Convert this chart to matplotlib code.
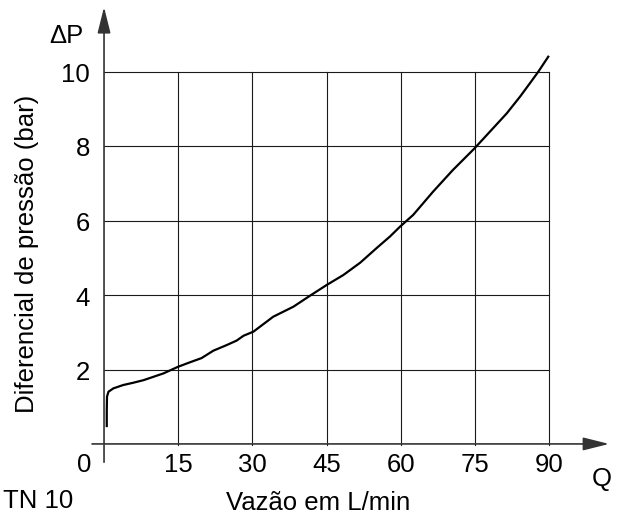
import matplotlib
matplotlib.use("Agg")
import matplotlib.pyplot as plt

plt.rcParams['font.family'] = ['Liberation Sans', 'DejaVu Sans']

# ---- data ----
flow_q = [0.55, 0.55, 0.6, 0.9, 1.9, 3.9, 5.9, 8.0, 10.0, 12.0, 15.0, 17.4, 19.7,
          22.1, 24.8, 26.8, 28.2, 30.2, 34.2, 38.3, 41.6, 45.0, 48.4, 51.8, 55.1,
          57.8, 59.8, 62.5, 66.5, 70.5, 74.8, 78.0, 81.4, 84.1, 86.1, 87.8, 89.8]
delta_p = [0.50, 0.90, 1.29, 1.42, 1.51, 1.60, 1.66, 1.73, 1.82, 1.91, 2.09, 2.21,
           2.32, 2.52, 2.67, 2.79, 2.92, 3.03, 3.43, 3.70, 3.99, 4.28, 4.55, 4.88,
           5.27, 5.58, 5.84, 6.16, 6.78, 7.36, 7.93, 8.39, 8.88, 9.33, 9.69, 10.0, 10.40]
x_ticks = [15, 30, 45, 60, 75, 90]
y_ticks = [2, 4, 6, 8, 10]
x_labels = ['15', '30', '45', '60', '75', '90']
y_labels = ['2', '4', '6', '8', '10']

FS = 18.5
fig = plt.figure(figsize=(6.19, 5.15), dpi=100)
ax = fig.add_axes([0, 0, 1, 1])
ax.set_xlim(-21.03, 104.1)
ax.set_ylim(-1.885, 11.92)
ax.axis('off')

# grid
for xv in x_ticks:
    ax.plot([xv, xv], [0, max(y_ticks)], color='#1a1a1a', lw=0.8, zorder=1)
for yv in y_ticks:
    ax.plot([0, max(x_ticks)], [yv, yv], color='#1a1a1a', lw=0.8, zorder=1)

# axes with arrows
arrow = dict(arrowstyle='-|>,head_length=1.6,head_width=0.4', mutation_scale=10,
             lw=1.2, color='#333333', shrinkA=0, shrinkB=0)
ax.annotate('', xy=(0, 11.73), xytext=(0, -0.47), arrowprops=arrow, zorder=2)
ax.annotate('', xy=(102.1, 0.02), xytext=(-2.43, 0.02), arrowprops=arrow, zorder=2)

# curve
ax.plot(flow_q, delta_p, color='black', lw=1.6, zorder=3)

# tick labels
ax.text(-4.04, -0.73, '0', fontsize=FS, ha='center', va='baseline')
for xv, lab in zip(x_ticks, x_labels):
    ax.text(xv, -0.73, lab, fontsize=FS, ha='center', va='baseline')
for yv, lab in zip(y_ticks, y_labels):
    ax.text(-2.83, yv - 0.27, lab, fontsize=FS, ha='right', va='baseline')

ax.text(-7.7, 10.77, 'ΔP', fontsize=FS, ha='center', va='baseline')
ax.text(100.67, -1.10, 'Q', fontsize=FS, ha='center', va='baseline')
ax.text(-20.4, -1.70, 'TN 10', fontsize=FS, ha='left', va='baseline')
ax.text(43.26, -1.75, 'Vazão em L/min', fontsize=FS, ha='center', va='baseline')
ax.text(-15.6, 5.11, 'Diferencial de pressão (bar)', fontsize=FS, ha='center',
        va='center', rotation=90)

fig.savefig('out.png', dpi=100)
